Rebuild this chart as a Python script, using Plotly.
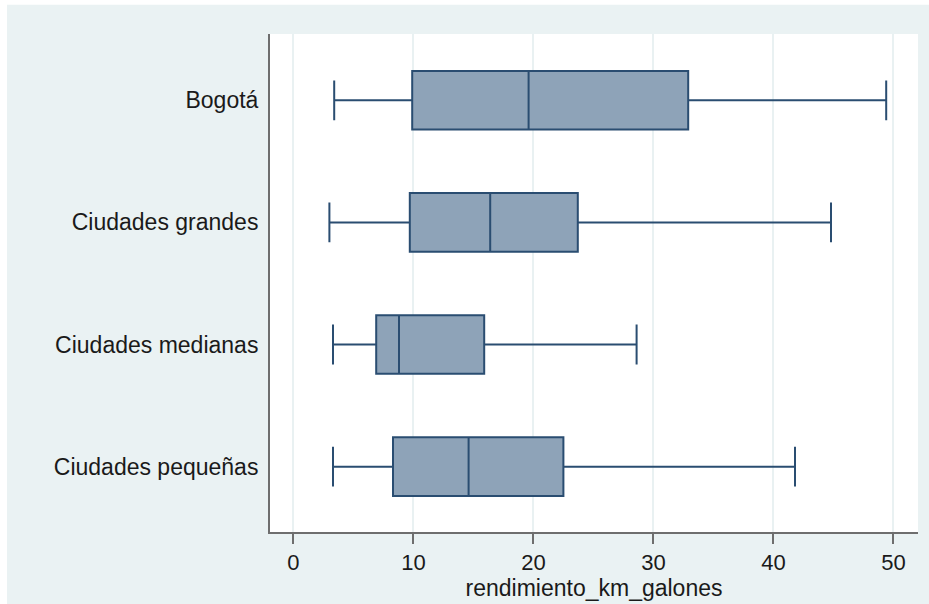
import plotly.graph_objects as go

# Fuel efficiency (km per gallon) summary by city size
categories = ["Bogotá", "Ciudades grandes", "Ciudades medianas", "Ciudades pequeñas"]
lower_adj = [3.4, 3.0, 3.3, 3.3]
q1_vals = [9.9, 9.7, 6.9, 8.3]
median_vals = [19.6, 16.4, 8.8, 14.6]
q3_vals = [32.9, 23.7, 15.9, 22.5]
upper_adj = [49.4, 44.8, 28.6, 41.8]
x_ticks = [0, 10, 20, 30, 40, 50]
x_title = "rendimiento_km_galones"

BG = "#EAF2F3"
FILL = "rgb(142,163,184)"
LINE = "rgb(42,77,113)"
FONT = "Liberation Sans"

fig = go.Figure()
fig.add_trace(go.Box(
    y=categories,
    q1=q1_vals,
    median=median_vals,
    q3=q3_vals,
    lowerfence=lower_adj,
    upperfence=upper_adj,
    orientation="h",
    width=0.48,
    whiskerwidth=0.68,
    fillcolor=FILL,
    line=dict(color=LINE, width=2),
    boxpoints=False,
    showlegend=False,
    hoverinfo="skip",
))

# outer panel colour, leaving a thin white strip on the top and left edges,
# and the white plotting region on top of it
fig.add_shape(type="rect", xref="paper", yref="paper",
              x0=(7 - 270) / 648, x1=(935 - 270) / 648,
              y0=(535 - 610) / 500.7, y1=(535 - 5) / 500.7,
              fillcolor=BG, line=dict(width=0), layer="below")
fig.add_shape(type="rect", xref="paper", yref="paper",
              x0=0, x1=1, y0=0, y1=1,
              fillcolor="white", line=dict(width=0), layer="below")

fig.update_layout(
    width=929, height=604,
    margin=dict(l=270, r=11, t=34, b=69),
    paper_bgcolor="white",
    plot_bgcolor="white",
    font=dict(family=FONT, size=23, color="#1a1a1a"),
)
fig.update_xaxes(
    range=[-1.95, 52.05],
    tickvals=x_ticks,
    ticks="outside", ticklen=10, tickwidth=1.5, tickcolor="#6e6e6e",
    showline=True, linecolor="#6e6e6e", linewidth=2,
    showgrid=True, gridcolor="#E9F1F2", gridwidth=2,
    zeroline=False,
    title=dict(text=x_title, standoff=1, font=dict(size=23)),
    tickfont=dict(size=22),
)
fig.update_yaxes(
    type="category",
    categoryorder="array", categoryarray=categories,
    range=[3.535, -0.543],
    showline=True, linecolor="#6e6e6e", linewidth=2,
    showgrid=False, zeroline=False,
    ticks="", ticklabelstandoff=5,
    tickfont=dict(size=23),
)

fig.write_html("out.html")
